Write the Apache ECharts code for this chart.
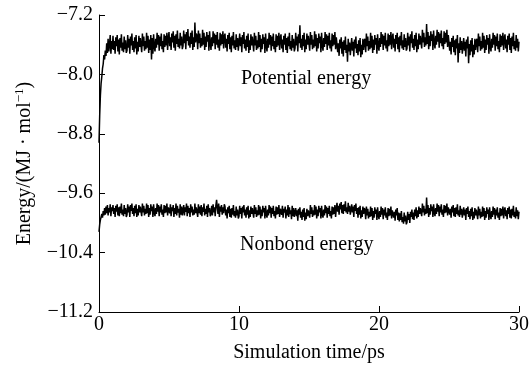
<!DOCTYPE html>
<html>
<head>
<meta charset="utf-8">
<script src="https://cdn.jsdelivr.net/npm/echarts@6/dist/echarts.min.js"></script>
<style>
html,body{margin:0;padding:0;background:#fff;}
#c{width:532px;height:376px;}
</style>
</head>
<body>
<div id="c"></div>
<script>
// sampling step of the simulation output (ps)
const timeStep = 0.05;
const xTicks = [0, 10, 20, 30];
const yTicks = [-11.2, -10.4, -9.6, -8.8, -8.0, -7.2];
const seriesNames = ['Potential energy', 'Nonbond energy'];

// Potential energy (MJ/mol), t = 0 .. 30 ps, one row per ps
const potential = [
-8.92,-8.55,-8.28,-8.12,-8.03,-7.92,-7.86,-7.74,-7.80,-7.68,-7.75,-7.58,-7.71,-7.52,-7.69,-7.60,-7.47,-7.72,-7.55,-7.66,
-7.48,-7.67,-7.55,-7.72,-7.50,-7.62,-7.47,-7.69,-7.53,-7.73,-7.51,-7.64,-7.46,-7.68,-7.57,-7.70,-7.49,-7.66,-7.54,-7.71,
-7.68,-7.47,-7.64,-7.52,-7.72,-7.49,-7.61,-7.45,-7.67,-7.55,-7.70,-7.50,-7.65,-7.47,-7.73,-7.56,-7.69,-7.48,-7.63,-7.51,
-7.52,-7.70,-7.45,-7.62,-7.49,-7.68,-7.55,-7.66,-7.44,-7.64,-7.48,-7.71,-7.53,-7.67,-7.47,-7.80,-7.51,-7.72,-7.46,-7.63,
-7.69,-7.52,-7.64,-7.44,-7.60,-7.47,-7.68,-7.49,-7.62,-7.45,-7.66,-7.55,-7.70,-7.46,-7.63,-7.48,-7.61,-7.44,-7.67,-7.51,
-7.43,-7.62,-7.50,-7.67,-7.45,-7.57,-7.42,-7.64,-7.48,-7.68,-7.46,-7.59,-7.41,-7.63,-7.52,-7.65,-7.44,-7.61,-7.49,-7.66,
-7.62,-7.41,-7.58,-7.46,-7.66,-7.43,-7.55,-7.39,-7.61,-7.49,-7.64,-7.44,-7.59,-7.41,-7.67,-7.50,-7.63,-7.30,-7.57,-7.45,
-7.48,-7.66,-7.41,-7.58,-7.45,-7.64,-7.51,-7.62,-7.40,-7.60,-7.44,-7.67,-7.49,-7.63,-7.43,-7.56,-7.47,-7.68,-7.42,-7.59,
-7.67,-7.50,-7.62,-7.42,-7.58,-7.45,-7.66,-7.47,-7.60,-7.43,-7.64,-7.53,-7.68,-7.44,-7.61,-7.46,-7.59,-7.42,-7.65,-7.49,
-7.45,-7.64,-7.52,-7.69,-7.47,-7.59,-7.44,-7.66,-7.50,-7.70,-7.48,-7.61,-7.43,-7.65,-7.54,-7.67,-7.46,-7.63,-7.51,-7.68,
-7.66,-7.45,-7.62,-7.50,-7.70,-7.47,-7.59,-7.43,-7.65,-7.53,-7.68,-7.48,-7.63,-7.45,-7.71,-7.54,-7.67,-7.46,-7.61,-7.49,
-7.51,-7.69,-7.44,-7.61,-7.48,-7.67,-7.54,-7.65,-7.43,-7.63,-7.47,-7.70,-7.52,-7.66,-7.46,-7.59,-7.50,-7.71,-7.45,-7.62,
-7.69,-7.52,-7.64,-7.44,-7.60,-7.47,-7.68,-7.49,-7.62,-7.45,-7.66,-7.55,-7.70,-7.46,-7.63,-7.48,-7.61,-7.44,-7.67,-7.51,
-7.46,-7.65,-7.53,-7.70,-7.48,-7.60,-7.45,-7.67,-7.51,-7.71,-7.49,-7.62,-7.44,-7.66,-7.55,-7.68,-7.47,-7.64,-7.52,-7.69,
-7.65,-7.44,-7.61,-7.49,-7.69,-7.46,-7.58,-7.34,-7.64,-7.52,-7.67,-7.47,-7.62,-7.44,-7.70,-7.53,-7.66,-7.45,-7.60,-7.48,
-7.50,-7.68,-7.43,-7.60,-7.47,-7.66,-7.53,-7.64,-7.42,-7.62,-7.46,-7.69,-7.51,-7.65,-7.45,-7.58,-7.49,-7.70,-7.44,-7.61,
-7.68,-7.51,-7.63,-7.43,-7.59,-7.46,-7.67,-7.48,-7.61,-7.44,-7.65,-7.54,-7.69,-7.45,-7.62,-7.47,-7.60,-7.43,-7.66,-7.50,
-7.51,-7.70,-7.58,-7.75,-7.53,-7.65,-7.50,-7.72,-7.56,-7.76,-7.54,-7.67,-7.49,-7.71,-7.60,-7.83,-7.52,-7.69,-7.57,-7.74,
-7.72,-7.51,-7.68,-7.56,-7.76,-7.53,-7.65,-7.49,-7.71,-7.59,-7.74,-7.54,-7.69,-7.51,-7.77,-7.60,-7.73,-7.52,-7.67,-7.55,
-7.52,-7.70,-7.45,-7.62,-7.49,-7.68,-7.55,-7.66,-7.44,-7.64,-7.48,-7.71,-7.53,-7.67,-7.47,-7.60,-7.51,-7.72,-7.46,-7.63,
-7.68,-7.51,-7.63,-7.43,-7.59,-7.46,-7.67,-7.48,-7.61,-7.44,-7.65,-7.54,-7.69,-7.45,-7.62,-7.47,-7.60,-7.43,-7.66,-7.50,
-7.45,-7.64,-7.52,-7.69,-7.47,-7.59,-7.44,-7.66,-7.50,-7.70,-7.48,-7.61,-7.43,-7.65,-7.54,-7.67,-7.46,-7.63,-7.51,-7.68,
-7.65,-7.44,-7.61,-7.49,-7.69,-7.46,-7.58,-7.42,-7.64,-7.52,-7.67,-7.47,-7.62,-7.44,-7.70,-7.53,-7.66,-7.45,-7.60,-7.48,
-7.47,-7.65,-7.40,-7.57,-7.44,-7.63,-7.50,-7.61,-7.32,-7.59,-7.43,-7.66,-7.48,-7.62,-7.42,-7.55,-7.46,-7.67,-7.41,-7.58,
-7.65,-7.48,-7.60,-7.40,-7.56,-7.43,-7.64,-7.45,-7.58,-7.41,-7.62,-7.51,-7.66,-7.42,-7.59,-7.44,-7.57,-7.40,-7.63,-7.47,
-7.49,-7.68,-7.56,-7.73,-7.51,-7.63,-7.48,-7.70,-7.54,-7.74,-7.52,-7.65,-7.47,-7.84,-7.58,-7.71,-7.50,-7.67,-7.55,-7.72,
-7.72,-7.51,-7.68,-7.56,-7.76,-7.53,-7.65,-7.49,-7.85,-7.59,-7.74,-7.54,-7.69,-7.51,-7.77,-7.60,-7.73,-7.52,-7.67,-7.55,
-7.52,-7.70,-7.45,-7.62,-7.49,-7.68,-7.55,-7.66,-7.44,-7.64,-7.48,-7.71,-7.53,-7.67,-7.47,-7.60,-7.51,-7.72,-7.46,-7.63,
-7.69,-7.52,-7.64,-7.44,-7.60,-7.47,-7.68,-7.49,-7.62,-7.45,-7.66,-7.55,-7.70,-7.46,-7.63,-7.48,-7.61,-7.44,-7.67,-7.51,
-7.46,-7.65,-7.53,-7.70,-7.48,-7.60,-7.45,-7.67,-7.51,-7.71,-7.49,-7.62,-7.44,-7.66,-7.55,-7.68,-7.47,-7.64,-7.52,-7.69,
-7.56
];

// Nonbond energy (MJ/mol), t = 0 .. 30 ps, one row per ps
const nonbond = [
-10.12,-10.02,-9.96,-9.92,-9.88,-9.93,-9.84,-9.90,-9.80,-9.89,-9.78,-9.87,-9.76,-9.90,-9.80,-9.86,-9.75,-9.91,-9.79,-9.84,
-9.76,-9.88,-9.80,-9.92,-9.77,-9.85,-9.75,-9.90,-9.79,-9.91,-9.78,-9.87,-9.74,-9.89,-9.82,-9.91,-9.76,-9.88,-9.80,-9.92,
-9.89,-9.75,-9.86,-9.78,-9.92,-9.76,-9.84,-9.74,-9.88,-9.80,-9.91,-9.77,-9.87,-9.75,-9.92,-9.81,-9.90,-9.76,-9.86,-9.78,
-9.79,-9.91,-9.74,-9.86,-9.77,-9.90,-9.81,-9.88,-9.74,-9.87,-9.76,-9.92,-9.80,-9.89,-9.75,-9.84,-9.78,-9.92,-9.75,-9.86,
-9.91,-9.80,-9.88,-9.74,-9.85,-9.76,-9.91,-9.78,-9.86,-9.75,-9.89,-9.82,-9.92,-9.76,-9.87,-9.77,-9.86,-9.74,-9.90,-9.79,
-9.78,-9.87,-9.75,-9.91,-9.79,-9.84,-9.76,-9.92,-9.80,-9.88,-9.74,-9.90,-9.77,-9.86,-9.81,-9.93,-9.75,-9.89,-9.78,-9.90,
-9.88,-9.76,-9.90,-9.79,-9.85,-9.74,-9.91,-9.77,-9.87,-9.80,-9.92,-9.75,-9.86,-9.78,-9.90,-9.82,-9.89,-9.74,-9.87,-9.79,
-9.80,-9.92,-9.75,-9.87,-9.78,-9.89,-9.76,-9.91,-9.79,-9.85,-9.74,-9.90,-9.81,-9.88,-9.77,-9.92,-9.75,-9.86,-9.80,-9.91,
-9.87,-9.77,-9.90,-9.75,-9.86,-9.79,-9.91,-9.76,-9.69,-9.80,-9.88,-9.74,-9.92,-9.78,-9.85,-9.76,-9.89,-9.79,-9.87,-9.75,
-9.78,-9.90,-9.82,-9.94,-9.79,-9.87,-9.77,-9.92,-9.81,-9.93,-9.80,-9.89,-9.76,-9.91,-9.84,-9.93,-9.78,-9.90,-9.82,-9.94,
-9.91,-9.77,-9.88,-9.80,-9.94,-9.78,-9.86,-9.76,-9.90,-9.82,-9.93,-9.79,-9.89,-9.77,-9.94,-9.83,-9.92,-9.78,-9.88,-9.80,
-9.81,-9.93,-9.76,-9.88,-9.79,-9.92,-9.83,-9.90,-9.76,-9.89,-9.78,-9.94,-9.82,-9.91,-9.77,-9.86,-9.80,-9.94,-9.77,-9.88,
-9.93,-9.82,-9.90,-9.76,-9.87,-9.78,-9.93,-9.80,-9.88,-9.77,-9.91,-9.84,-9.94,-9.78,-9.89,-9.79,-9.88,-9.76,-9.92,-9.81,
-9.80,-9.89,-9.77,-9.93,-9.81,-9.86,-9.78,-9.94,-9.82,-9.90,-9.76,-9.92,-9.79,-9.88,-9.83,-9.95,-9.77,-9.91,-9.80,-9.92,
-9.94,-9.80,-9.91,-9.83,-9.97,-9.81,-9.89,-9.79,-9.93,-9.85,-9.96,-9.82,-9.92,-9.80,-9.97,-9.86,-9.95,-9.81,-9.91,-9.83,
-9.81,-9.93,-9.76,-9.88,-9.79,-9.92,-9.83,-9.90,-9.76,-9.89,-9.78,-9.94,-9.82,-9.91,-9.77,-9.86,-9.80,-9.94,-9.77,-9.88,
-9.93,-9.82,-9.90,-9.76,-9.87,-9.78,-9.93,-9.80,-9.88,-9.77,-9.91,-9.84,-9.94,-9.78,-9.89,-9.79,-9.88,-9.76,-9.92,-9.81,
-9.73,-9.85,-9.77,-9.89,-9.74,-9.82,-9.72,-9.87,-9.76,-9.88,-9.75,-9.84,-9.71,-9.86,-9.79,-9.88,-9.73,-9.85,-9.77,-9.89,
-9.89,-9.75,-9.86,-9.78,-9.92,-9.76,-9.84,-9.74,-9.88,-9.80,-9.93,-9.79,-9.89,-9.77,-9.94,-9.83,-9.92,-9.78,-9.88,-9.80,
-9.83,-9.95,-9.78,-9.90,-9.81,-9.94,-9.85,-9.92,-9.78,-9.91,-9.80,-9.96,-9.84,-9.93,-9.79,-9.88,-9.82,-9.96,-9.79,-9.90,
-9.95,-9.84,-9.92,-9.78,-9.89,-9.80,-9.95,-9.82,-9.90,-9.79,-9.93,-9.86,-9.96,-9.80,-9.91,-9.81,-9.90,-9.78,-9.94,-9.83,
-9.81,-9.93,-9.85,-9.97,-9.82,-9.90,-9.80,-9.96,-9.86,-9.98,-9.87,-9.96,-9.84,-9.99,-9.92,-10.01,-9.86,-9.98,-9.90,-10.02,
-9.99,-9.85,-9.96,-9.88,-10.00,-9.85,-9.92,-9.82,-9.95,-9.86,-9.96,-9.82,-9.91,-9.79,-9.94,-9.83,-9.92,-9.78,-9.88,-9.80,
-9.79,-9.91,-9.74,-9.86,-9.77,-9.90,-9.81,-9.88,-9.66,-9.87,-9.76,-9.92,-9.80,-9.89,-9.75,-9.84,-9.78,-9.92,-9.75,-9.86,
-9.91,-9.80,-9.88,-9.74,-9.85,-9.76,-9.91,-9.78,-9.86,-9.75,-9.89,-9.82,-9.92,-9.76,-9.87,-9.77,-9.86,-9.74,-9.90,-9.79,
-9.77,-9.89,-9.81,-9.93,-9.78,-9.86,-9.76,-9.91,-9.80,-9.92,-9.79,-9.88,-9.75,-9.90,-9.83,-9.92,-9.77,-9.89,-9.81,-9.93,
-9.93,-9.79,-9.90,-9.82,-9.96,-9.80,-9.88,-9.78,-9.92,-9.84,-9.95,-9.81,-9.91,-9.79,-9.96,-9.85,-9.94,-9.80,-9.90,-9.82,
-9.83,-9.95,-9.78,-9.90,-9.81,-9.94,-9.85,-9.92,-9.78,-9.91,-9.80,-9.96,-9.84,-9.93,-9.79,-9.88,-9.82,-9.96,-9.79,-9.90,
-9.95,-9.84,-9.92,-9.78,-9.89,-9.80,-9.95,-9.82,-9.90,-9.79,-9.93,-9.86,-9.96,-9.80,-9.91,-9.81,-9.90,-9.78,-9.94,-9.83,
-9.79,-9.91,-9.83,-9.95,-9.80,-9.88,-9.78,-9.93,-9.82,-9.94,-9.81,-9.90,-9.77,-9.92,-9.85,-9.94,-9.79,-9.91,-9.83,-9.95,
-9.85
];

const toPairs = arr => arr.map((v, i) => [Math.round(i * timeStep * 100) / 100, v]);

const FONT = '"Liberation Serif", "Times New Roman", serif';
const chart = echarts.init(document.getElementById('c'), null, {renderer: 'canvas'});
chart.setOption({
  animation: false,
  backgroundColor: '#fff',
  textStyle: {fontFamily: FONT, color: '#000'},
  grid: {left: 99, right: 12, top: 15, bottom: 64, containLabel: false},
  xAxis: {
    type: 'value',
    min: xTicks[0], max: xTicks[xTicks.length - 1], interval: 10,
    name: 'Simulation time/ps',
    nameLocation: 'middle', nameGap: 31,
    nameTextStyle: {fontFamily: FONT, fontSize: 20, color: '#000'},
    axisLine: {onZero: false, lineStyle: {color: '#000', width: 1}},
    axisTick: {inside: true, length: 6, lineStyle: {color: '#000'}},
    axisLabel: {fontFamily: FONT, fontSize: 20, color: '#000', margin: 3},
    splitLine: {show: false}
  },
  yAxis: {
    type: 'value',
    min: yTicks[0], max: yTicks[yTicks.length - 1], interval: 0.8,
    name: '{a|Energy/(MJ · mol}{s|−1}{a|)}',
    nameLocation: 'middle', nameGap: 63,
    nameTextStyle: {
      fontFamily: FONT, fontSize: 20, color: '#000',
      rich: {
        a: {fontFamily: FONT, fontSize: 20, color: '#000'},
        s: {fontFamily: FONT, fontSize: 13, color: '#000', verticalAlign: 'top', padding: [0, 0, 10, 0]}
      }
    },
    axisLine: {onZero: false, lineStyle: {color: '#000', width: 1}},
    axisTick: {inside: true, length: 6, lineStyle: {color: '#000'}},
    axisLabel: {
      fontFamily: FONT, fontSize: 20, color: '#000', margin: 6,
      formatter: v => (v < 0 ? '\u2212' : '') + Math.abs(v).toFixed(1)
    },
    splitLine: {show: false}
  },
  series: [
    {
      name: seriesNames[0], type: 'line', data: toPairs(potential),
      showSymbol: false, symbol: 'none',
      lineStyle: {color: '#000', width: 1.5}
    },
    {
      name: seriesNames[1], type: 'line', data: toPairs(nonbond),
      showSymbol: false, symbol: 'none',
      lineStyle: {color: '#000', width: 1.5}
    }
  ],
  graphic: [
    {type: 'text', left: 241, top: 69, style: {text: seriesNames[0], font: '20px ' + FONT, fill: '#000'}},
    {type: 'text', left: 240, top: 235, style: {text: seriesNames[1], font: '20px ' + FONT, fill: '#000'}}
  ]
});
</script>
</body>
</html>
